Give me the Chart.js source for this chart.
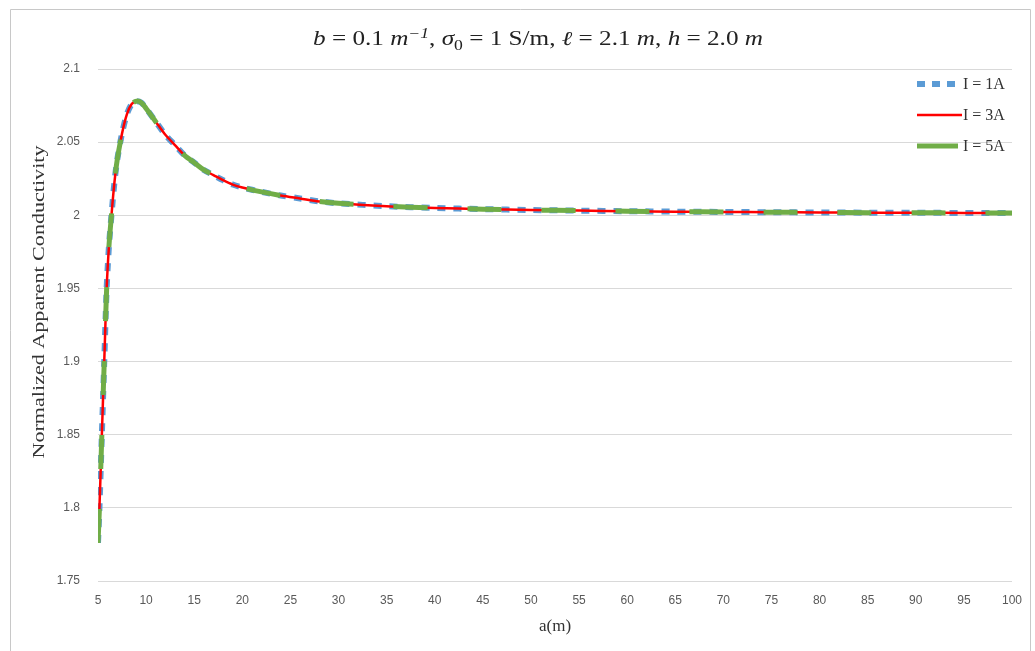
<!DOCTYPE html>
<html>
<head>
<meta charset="utf-8">
<script src="https://cdn.jsdelivr.net/npm/chart.js@4"></script>
<style>
  body { margin: 0; background: #fff; }
  #wrap { position: absolute; left: 0; top: 0; width: 1035px; height: 651px; }
</style>
</head>
<body>
<div id="wrap"><canvas id="myChart" width="1035" height="651"></canvas></div>
<script>
// a (m) values
let aVals = [5, 5.15, 5.4, 5.65, 5.9, 6.15, 6.4, 6.7, 7, 7.5, 8, 8.5, 9, 9.5, 10, 11, 12, 13, 14, 15, 16, 17, 18, 19, 20,
  22, 24, 26, 28, 30, 35, 40, 45, 50, 55, 60, 65, 70, 75, 80, 85, 90, 95, 100]

// normalized apparent conductivity, one list per current
let cond1A = [1.776, 1.8, 1.85, 1.9, 1.95, 1.98, 2.0, 2.022, 2.038, 2.056, 2.069, 2.076, 2.078, 2.077, 2.073, 2.064, 2.055, 2.048, 2.041, 2.036, 2.031, 2.0275, 2.024, 2.021, 2.019,
  2.016, 2.0135, 2.0115, 2.0095, 2.0082, 2.0062, 2.005, 2.0042, 2.0036, 2.0032, 2.0028, 2.0025, 2.0023, 2.0021, 2.0019, 2.0018, 2.0017, 2.0016, 2.0015]
let cond3A = [1.776, 1.8, 1.85, 1.9, 1.95, 1.98, 2.0, 2.022, 2.038, 2.056, 2.069, 2.076, 2.078, 2.077, 2.073, 2.064, 2.055, 2.048, 2.041, 2.036, 2.031, 2.0275, 2.024, 2.021, 2.019,
  2.016, 2.0135, 2.0115, 2.0095, 2.0082, 2.0062, 2.005, 2.0042, 2.0036, 2.0032, 2.0028, 2.0025, 2.0023, 2.0021, 2.0019, 2.0018, 2.0017, 2.0016, 2.0015]
let cond5A = [1.776, 1.8, 1.85, 1.9, 1.95, 1.98, 2.0, 2.022, 2.038, 2.056, 2.069, 2.076, 2.078, 2.077, 2.073, 2.064, 2.055, 2.048, 2.041, 2.036, 2.031, 2.0275, 2.024, 2.021, 2.019,
  2.016, 2.0135, 2.0115, 2.0095, 2.0082, 2.0062, 2.005, 2.0042, 2.0036, 2.0032, 2.0028, 2.0025, 2.0023, 2.0021, 2.0019, 2.0018, 2.0017, 2.0016, 2.0015]

let seriesNames = ["I = 1A", "I = 3A", "I = 5A"]
let yTitle = "Normalized Apparent Conductivity"

// title pieces: text, italic?, shift (0 normal, -1 superscript, 1 subscript)
let titleParts = [
  ["b", true, 0], [" = 0.1 ", false, 0], ["m", true, 0], ["\u22121", true, -1], [", ", false, 0],
  ["\u03C3", true, 0], ["0", false, 1], [" = 1 S/m, ", false, 0], ["\u2113", true, 0], [" = 2.1 ", false, 0],
  ["m", true, 0], [", ", false, 0], ["h", true, 0], [" = 2.0 ", false, 0], ["m", true, 0]
]

function pts(ys) {
  return aVals.map((x, i) => ({ x: x, y: ys[i] }))
}

function partFont(p) {
  let size = p[2] == 0 ? 20 : 14
  return (p[1] ? "italic " : "") + size + "px 'Liberation Serif', 'DejaVu Serif'"
}

// frame, title, y title and legend
const extras = {
  id: "extras",
  beforeDraw(chart) {
    let c = chart.ctx
    c.save()
    c.fillStyle = "#fff"
    c.fillRect(0, 0, chart.width, chart.height)
    c.strokeStyle = "#c8c8c8"
    c.lineWidth = 1
    c.beginPath()
    c.moveTo(10.5, 651)
    c.lineTo(10.5, 9.5)
    c.lineTo(1030.5, 9.5)
    c.lineTo(1030.5, 651)
    c.stroke()

    // title
    let total = 0
    titleParts.forEach(p => { c.font = partFont(p); total += c.measureText(p[0]).width })
    let want = 450
    c.translate(538, 40)
    c.scale(want / total, 1)
    let x = -total / 2
    c.fillStyle = "#222"
    c.textBaseline = "middle"
    titleParts.forEach(p => {
      c.font = partFont(p)
      c.fillText(p[0], x, p[2] * 6)
      x += c.measureText(p[0]).width
    })
    c.setTransform(1, 0, 0, 1, 0, 0)

    // y axis title, stretched along its length like the original
    c.font = "16px 'Liberation Serif'"
    let w = c.measureText(yTitle).width
    c.translate(40, 302)
    c.rotate(-Math.PI / 2)
    c.scale(313 / w, 1)
    c.textAlign = "center"
    c.fillStyle = "#333"
    c.fillText(yTitle, 0, 0)
    c.restore()
  },
  afterDraw(chart) {
    let c = chart.ctx
    let rows = [84, 115, 146]
    c.save()
    chart.data.datasets.forEach((ds, i) => {
      let y = rows[i]
      c.strokeStyle = ds.borderColor
      c.lineWidth = ds.borderWidth
      c.setLineDash(i == 0 ? [8, 7] : [])
      c.beginPath()
      c.moveTo(917, y)
      c.lineTo(i == 1 ? 962 : 958, y)
      c.stroke()
      c.setLineDash([])
      c.fillStyle = "#333"
      c.font = "16px 'Liberation Serif'"
      c.textBaseline = "middle"
      c.fillText(ds.label, 963, y + 1)
    })
    c.restore()
  }
}

let myChart = new Chart(document.getElementById("myChart"), {
  type: "line",
  data: {
    datasets: [
      { label: seriesNames[0], data: pts(cond1A), borderColor: "#5b9bd5", borderWidth: 6, borderDash: [8, 8], pointRadius: 0, tension: 0.3, order: 3 },
      { label: seriesNames[1], data: pts(cond3A), borderColor: "#ff0000", borderWidth: 2.5, pointRadius: 0, tension: 0.3, order: 2 },
      { label: seriesNames[2], data: pts(cond5A), borderColor: "#70ad47", borderWidth: 5, borderDash: [34, 40], pointRadius: 0, tension: 0.3, order: 1 }
    ]
  },
  options: {
    responsive: false,
    animation: false,
    layout: { padding: { top: 69, right: 23, left: 0, bottom: 0 } },
    plugins: {
      legend: { display: false },
      tooltip: { enabled: false },
      title: { display: false }
    },
    scales: {
      x: {
        type: "linear",
        min: 5,
        max: 100,
        grid: { display: false, drawTicks: false },
        border: { display: false },
        ticks: { stepSize: 5, padding: 12, color: "#595959", font: { family: "'Liberation Sans'", size: 12 }, maxRotation: 0, autoSkip: false },
        title: { display: true, text: "a(m)", color: "#333", font: { family: "'Liberation Serif'", size: 17 }, padding: { top: 0, bottom: 14 } },
        afterFit: s => { s.height = 70 }
      },
      y: {
        min: 1.75,
        max: 2.1,
        grid: { color: "#d9d9d9", drawTicks: false },
        border: { display: false },
        ticks: {
          stepSize: 0.05, padding: 18, color: "#595959", font: { family: "'Liberation Sans'", size: 12 },
          callback: v => String(Number(v.toFixed(2)))
        },
        afterFit: s => { s.width = 98 }
      }
    }
  },
  plugins: [extras]
})
</script>
</body>
</html>
